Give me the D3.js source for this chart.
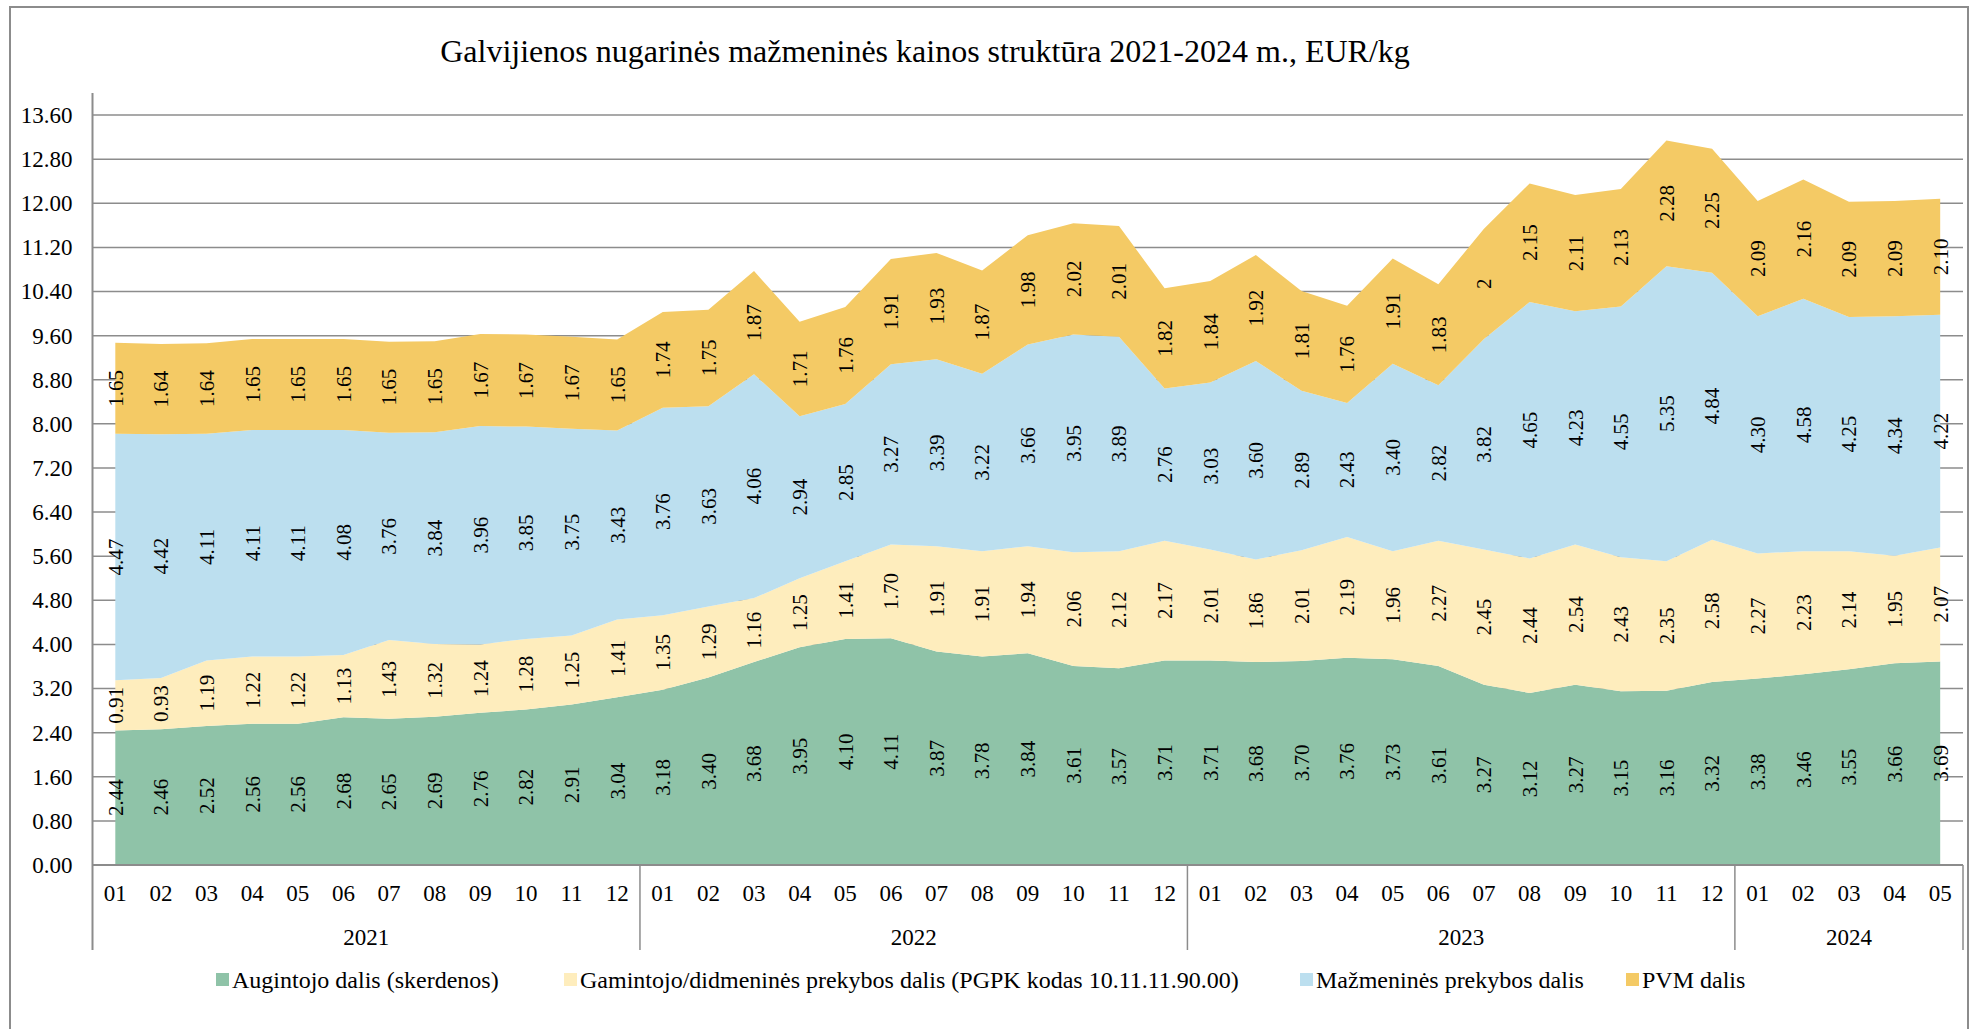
<!DOCTYPE html>
<html>
<head>
<meta charset="utf-8">
<script src="https://cdn.jsdelivr.net/npm/d3@7"></script>
<style>
  body { margin: 0; background: #fff; }
  svg text { font-family: "Liberation Serif", "Times New Roman", serif; fill: #000; }
</style>
</head>
<body>
<div id="chartContainer"></div>
<script>
// Data (EUR/kg)
const months = ['01','02','03','04','05','06','07','08','09','10','11','12',
                '01','02','03','04','05','06','07','08','09','10','11','12',
                '01','02','03','04','05','06','07','08','09','10','11','12',
                '01','02','03','04','05'];
const years = ['2021', '2022', '2023', '2024'];
const monthsPerYear = [12, 12, 12, 5];

const augintojo = [2.44, 2.46, 2.52, 2.56, 2.56, 2.68, 2.65, 2.69, 2.76, 2.82, 2.91, 3.04,
                   3.18, 3.40, 3.68, 3.95, 4.10, 4.11, 3.87, 3.78, 3.84, 3.61, 3.57, 3.71,
                   3.71, 3.68, 3.70, 3.76, 3.73, 3.61, 3.27, 3.12, 3.27, 3.15, 3.16, 3.32,
                   3.38, 3.46, 3.55, 3.66, 3.69];
const gamintojo = [0.91, 0.93, 1.19, 1.22, 1.22, 1.13, 1.43, 1.32, 1.24, 1.28, 1.25, 1.41,
                   1.35, 1.29, 1.16, 1.25, 1.41, 1.70, 1.91, 1.91, 1.94, 2.06, 2.12, 2.17,
                   2.01, 1.86, 2.01, 2.19, 1.96, 2.27, 2.45, 2.44, 2.54, 2.43, 2.35, 2.58,
                   2.27, 2.23, 2.14, 1.95, 2.07];
const mazmenines = [4.47, 4.42, 4.11, 4.11, 4.11, 4.08, 3.76, 3.84, 3.96, 3.85, 3.75, 3.43,
                    3.76, 3.63, 4.06, 2.94, 2.85, 3.27, 3.39, 3.22, 3.66, 3.95, 3.89, 2.76,
                    3.03, 3.60, 2.89, 2.43, 3.40, 2.82, 3.82, 4.65, 4.23, 4.55, 5.35, 4.84,
                    4.30, 4.58, 4.25, 4.34, 4.22];
const pvm = [1.65, 1.64, 1.64, 1.65, 1.65, 1.65, 1.65, 1.65, 1.67, 1.67, 1.67, 1.65,
             1.74, 1.75, 1.87, 1.71, 1.76, 1.91, 1.93, 1.87, 1.98, 2.02, 2.01, 1.82,
             1.84, 1.92, 1.81, 1.76, 1.91, 1.83, 2, 2.15, 2.11, 2.13, 2.28, 2.25,
             2.09, 2.16, 2.09, 2.09, 2.10];

const seriesNames = ['Augintojo dalis (skerdenos)',
                     'Gamintojo/didmeninės prekybos dalis (PGPK kodas 10.11.11.90.00)',
                     'Mažmeninės prekybos dalis',
                     'PVM dalis'];
const yTicks = [0, 0.8, 1.6, 2.4, 3.2, 4.0, 4.8, 5.6, 6.4, 7.2, 8.0, 8.8, 9.6, 10.4, 11.2, 12.0, 12.8, 13.6];

const colors = ['#8fc3a8', '#feedbd', '#bcdfef', '#f4ca65'];
const title = 'Galvijienos nugarinės mažmeninės kainos struktūra 2021-2024 m., EUR/kg';

// build rows for d3.stack
const keys = ['a', 'g', 'm', 'p'];
const rows = months.map((m, i) => ({
  idx: i, a: augintojo[i], g: gamintojo[i], m: mazmenines[i], p: pvm[i]
}));

const W = 1977, H = 1029;
const plot = { left: 92.5, right: 1963, top: 93, bottom: 865 };

const svg = d3.select('#chartContainer').append('svg')
  .attr('width', W).attr('height', H);

// outer frame
svg.append('rect')
  .attr('x', 10).attr('y', 7)
  .attr('width', 1958).attr('height', 1040)
  .attr('fill', 'none').attr('stroke', '#8c8c8c').attr('stroke-width', 2);

svg.append('text')
  .attr('x', 925).attr('y', 62)
  .attr('text-anchor', 'middle')
  .style('font-size', '32px')
  .text(title);

const x = d3.scaleBand()
  .domain(d3.range(months.length))
  .range([plot.left, plot.right]);

const y = d3.scaleLinear()
  .domain([0, 14])
  .range([plot.bottom, plot.top]);

// gridlines
svg.append('g')
  .attr('class', 'grid')
  .selectAll('line')
  .data(yTicks)
  .enter().append('line')
  .attr('x1', plot.left).attr('x2', plot.right)
  .attr('y1', d => y(d)).attr('y2', d => y(d))
  .attr('stroke', '#8c8c8c').attr('stroke-width', 1.5);

// stacked areas
const stacked = d3.stack().keys(keys)(rows);
const cx = i => x(i) + x.bandwidth() / 2;

const area = d3.area()
  .x(d => cx(d.data.idx))
  .y0(d => y(d[0]))
  .y1(d => y(d[1]));

svg.append('g')
  .selectAll('path')
  .data(stacked)
  .enter().append('path')
  .attr('d', area)
  .attr('fill', (d, i) => colors[i]);

// y axis
const yAxis = svg.append('g')
  .attr('transform', `translate(${plot.left},0)`)
  .call(d3.axisLeft(y).tickValues(yTicks).tickFormat(d3.format('.2f')).tickSize(0).tickPadding(20));
yAxis.select('.domain').remove();
yAxis.selectAll('text')
  .style('font-size', '23px');

// x axis: months
const xAxis = svg.append('g')
  .attr('transform', `translate(0,${plot.bottom})`)
  .call(d3.axisBottom(x).tickFormat(i => months[i]).tickSize(0).tickPadding(20));
xAxis.select('.domain').remove();
xAxis.selectAll('text')
  .style('font-size', '23px');

svg.append('line')
  .attr('x1', plot.left).attr('x2', plot.right)
  .attr('y1', plot.bottom).attr('y2', plot.bottom)
  .attr('stroke', '#8c8c8c').attr('stroke-width', 2);
svg.append('line')
  .attr('x1', plot.left).attr('x2', plot.left)
  .attr('y1', plot.top).attr('y2', 950)
  .attr('stroke', '#8c8c8c').attr('stroke-width', 2);

// year groups
let start = 0;
years.forEach((yr, k) => {
  const end = start + monthsPerYear[k];
  const x0 = x(start), x1 = x(end - 1) + x.bandwidth();
  svg.append('line')
    .attr('x1', x1).attr('x2', x1)
    .attr('y1', plot.bottom).attr('y2', 950)
    .attr('stroke', '#8c8c8c').attr('stroke-width', 1.5);
  svg.append('text')
    .attr('x', (x0 + x1) / 2).attr('y', 945)
    .attr('text-anchor', 'middle')
    .style('font-size', '23px')
    .text(yr);
  start = end;
});

// data labels (rotated, middle of each band)
const fmt = v => Number.isInteger(v) ? String(v) : v.toFixed(2);
stacked.forEach(layer => {
  svg.append('g')
    .selectAll('text')
    .data(layer)
    .enter().append('text')
    .attr('transform', d => `translate(${cx(d.data.idx)},${y((d[0] + d[1]) / 2)}) rotate(-90)`)
    .attr('text-anchor', 'middle')
    .attr('dy', '0.35em')
    .style('font-size', '21px')
    .text(d => fmt(d.data[layer.key]));
});

// legend
const legendX = [216, 564, 1300, 1626];
const legend = svg.append('g').selectAll('g')
  .data(seriesNames)
  .enter().append('g')
  .attr('transform', (d, i) => `translate(${legendX[i]},973)`);
legend.append('rect')
  .attr('width', 13).attr('height', 13)
  .attr('fill', (d, i) => colors[i]);
legend.append('text')
  .attr('x', 16).attr('y', 15)
  .style('font-size', '24px')
  .text(d => d);
</script>
</body>
</html>
